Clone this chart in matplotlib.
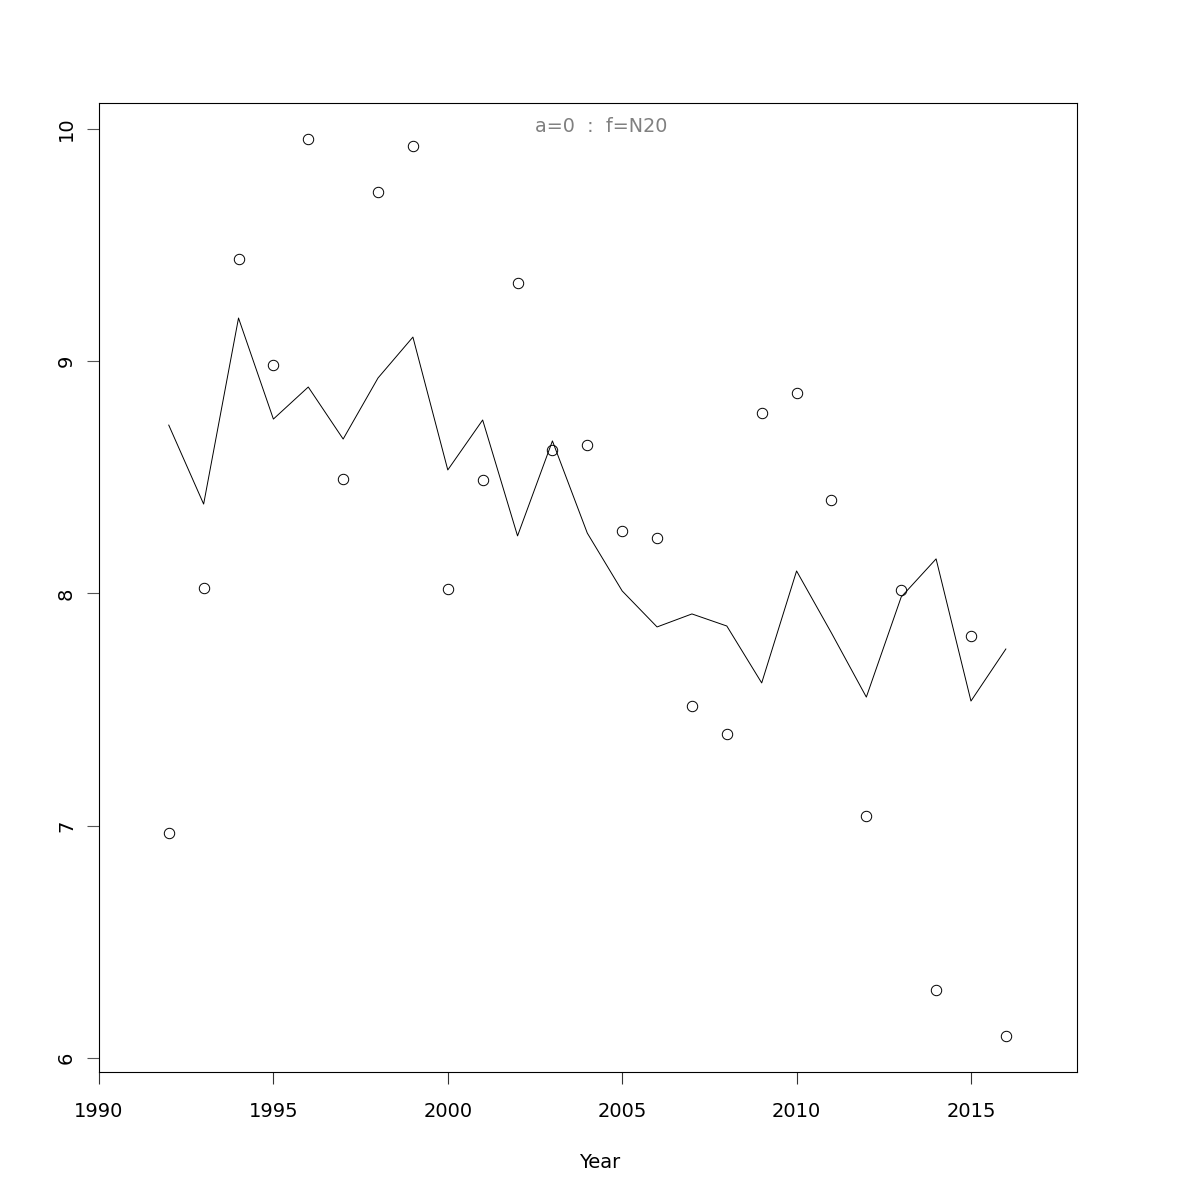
import matplotlib
matplotlib.use('Agg')
import matplotlib.pyplot as plt

# Observed values (circles) and fitted line
years = list(range(1992, 2017))
observed = [6.969, 8.024, 9.440, 8.984, 9.957, 8.493, 9.729, 9.927, 8.019, 8.489,
            9.337, 8.618, 8.639, 8.269, 8.239, 7.516, 7.395, 8.777, 8.863, 8.403,
            7.042, 8.015, 6.293, 7.817, 6.095]
fitted = [8.725, 8.385, 9.186, 8.751, 8.889, 8.665, 8.928, 9.104, 8.532, 8.747,
          8.248, 8.657, 8.260, 8.011, 7.856, 7.912, 7.860, 7.615, 8.097, 7.830,
          7.554, 7.985, 8.149, 7.537, 7.761]
x_ticks = [1990, 1995, 2000, 2005, 2010, 2015]
y_ticks = [6, 7, 8, 9, 10]

fig = plt.figure(figsize=(12, 12), dpi=100)
ax = fig.add_axes([0.0825, 0.1067, 0.815, 0.8075])

ax.plot(years, fitted, color='black', linewidth=0.7)
ax.plot(years, observed, linestyle='none', marker='o', markersize=7.5,
        markerfacecolor='none', markeredgecolor='black', markeredgewidth=0.7)

ax.set_xlim(1990, 2018.04)
ax.set_ylim(5.94, 10.112)
ax.set_xticks(x_ticks)
ax.set_yticks(y_ticks)
ax.set_yticklabels([str(v) for v in y_ticks], rotation=90, va='center')
ax.tick_params(axis='x', length=8.5, width=0.8, pad=13, labelsize=14, color='#333333')
ax.tick_params(axis='y', length=8.5, width=0.8, pad=8, labelsize=14, color='#555555')
for s in ax.spines.values():
    s.set_linewidth(0.8)

fig.text(601 / 1200, 1 - 127 / 1200, 'a=0  :  f=N20', color='gray',
         fontsize=13.8, ha='center', va='center')
fig.text(600 / 1200, 1 - 1162 / 1200, 'Year', fontsize=14, ha='center', va='center')

fig.savefig('out.png', dpi=100)
